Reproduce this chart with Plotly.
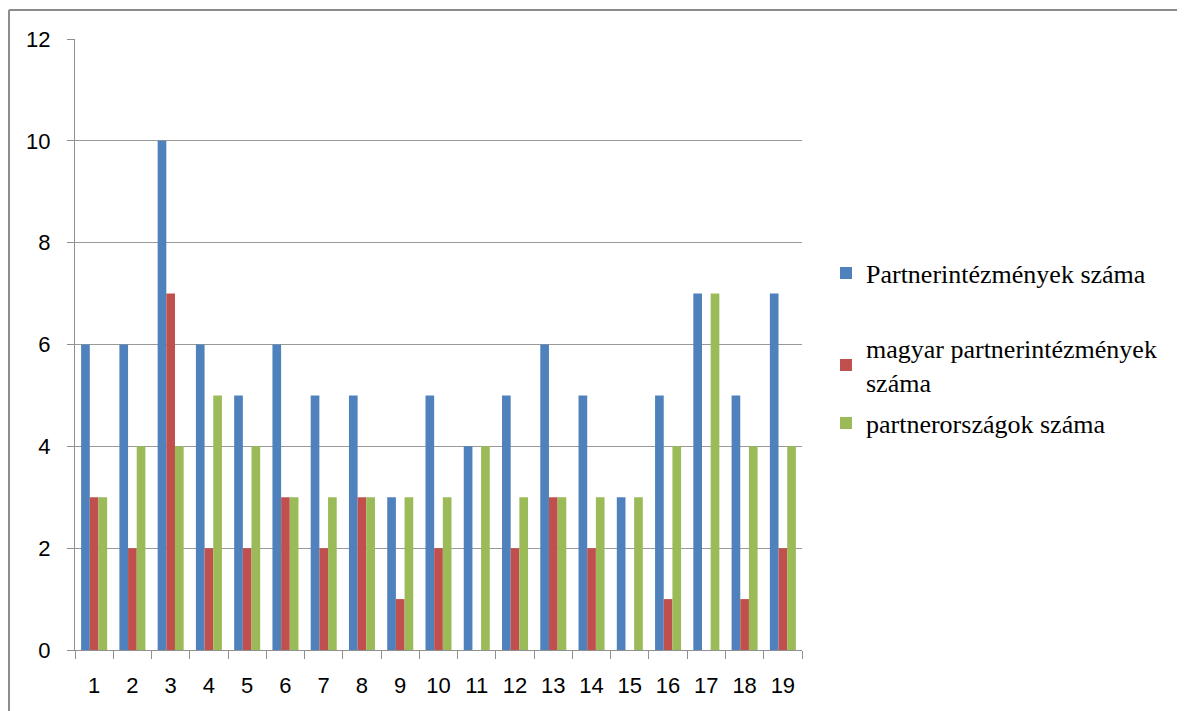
import plotly.graph_objects as go

categories = [str(i) for i in range(1, 20)]
partnerintezmenyek = [6, 6, 10, 6, 5, 6, 5, 5, 3, 5, 4, 5, 6, 5, 3, 5, 7, 5, 7]
magyar = [3, 2, 7, 2, 2, 3, 2, 3, 1, 2, 0, 2, 3, 2, 0, 1, 0, 1, 2]
orszagok = [3, 4, 4, 5, 4, 3, 3, 3, 3, 3, 4, 3, 3, 3, 3, 4, 7, 4, 4]

names = ["Partnerintézmények száma", "magyar partnerintézmények<br>száma", "partnerországok száma"]
colors = ["#4F81BD", "#C0504D", "#9BBB59"]
legend_ids = ["legend", "legend2", "legend3"]
legend_y = [0.617, 0.466, 0.3715]

fig = go.Figure()
for name, vals, col, lg in zip(names, [partnerintezmenyek, magyar, orszagok], colors, legend_ids):
    fig.add_trace(go.Bar(x=categories, y=vals, name=name, marker_color=col,
                         marker_line_width=0, legend=lg))

legend_font = dict(family="Liberation Serif, Times New Roman", size=26, color="#000")
layout_legends = {}
for lg, ly in zip(legend_ids, legend_y):
    layout_legends[lg] = dict(x=1.033, y=ly, xanchor="left", yanchor="middle",
                              font=legend_font, itemwidth=30, bgcolor="rgba(0,0,0,0)")

fig.update_layout(
    width=1177, height=703,
    paper_bgcolor="white", plot_bgcolor="white",
    margin=dict(l=67, r=383, t=31, b=61),
    barmode="group", bargap=0.32, bargroupgap=0,
    font=dict(family="Liberation Sans, Arial", size=22, color="#000000"),
    showlegend=True,
    **layout_legends,
)
fig.update_xaxes(type="category", showline=True, linecolor="#909090", linewidth=1,
                 ticks="outside", tickson="boundaries", ticklen=8, tickcolor="#909090",
                 showgrid=False, tickfont=dict(size=22), ticklabelstandoff=16)
fig.update_yaxes(range=[0, 12], dtick=2, showline=True, linecolor="#909090", linewidth=1,
                 ticks="outside", ticklen=7, tickcolor="#909090",
                 showgrid=True, gridcolor="#999999", gridwidth=1,
                 tickfont=dict(size=22), zeroline=False, ticklabelstandoff=12)
# outer chart frame (left and top edges)
fig.add_shape(type="line", xref="paper", yref="paper", x0=-0.0908, x1=1.6, y0=1.0475, y1=1.0475,
              line=dict(color="#8c8c8c", width=2))
fig.add_shape(type="line", xref="paper", yref="paper", x0=-0.0908, x1=-0.0908, y0=-0.2, y1=1.0475,
              line=dict(color="#8c8c8c", width=2))

fig.write_html("out.html")
